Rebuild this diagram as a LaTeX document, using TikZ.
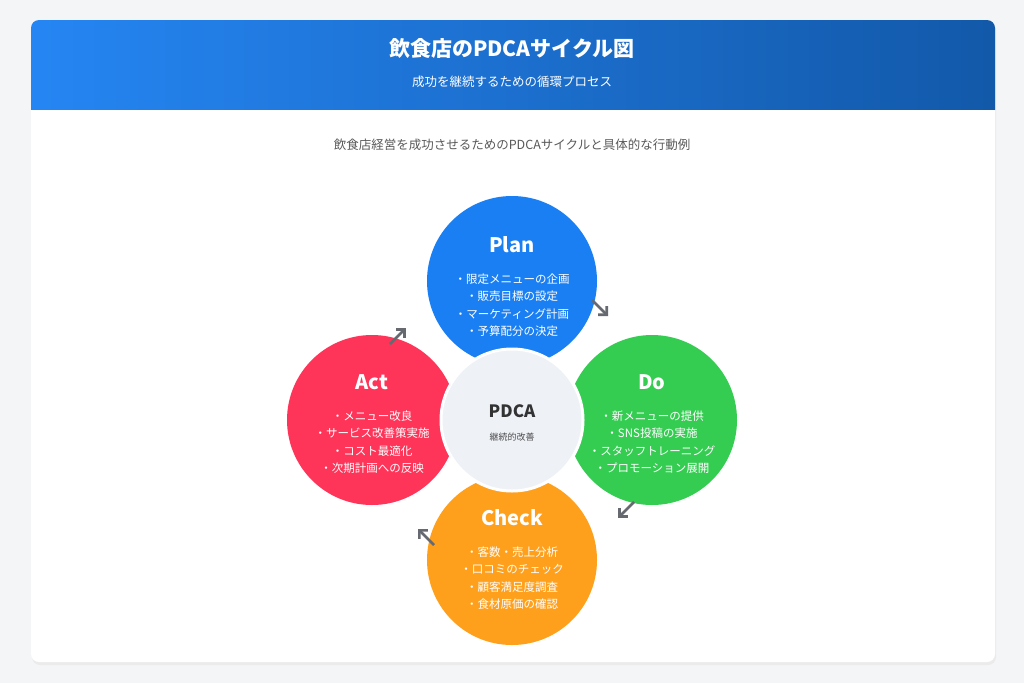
\documentclass[tikz,border=0pt]{standalone}
\usepackage{fontspec}
\setmainfont{Noto Sans CJK JP}
\usetikzlibrary{positioning,calc,arrows.meta}
\definecolor{pagebg}{HTML}{F4F5F7}
\definecolor{planblue}{HTML}{1A7FF2}
\definecolor{dogreen}{HTML}{35CC52}
\definecolor{checkorange}{HTML}{FFA01C}
\definecolor{actred}{HTML}{FF3459}
\definecolor{hubgray}{HTML}{EEF1F6}
\definecolor{arrowgray}{HTML}{666A70}
\tikzset{
  phase/.style={circle,minimum size=170pt,inner sep=0pt,fill=#1},
  phasetitle/.style={font=\bfseries\fontsize{20}{24}\selectfont,text=white},
  phaselist/.style={font=\fontsize{11.5}{17.5}\selectfont,text=white,align=center},
  cyclearrow/.style={arrowgray,line width=2.6pt,-{Straight Barb[length=6pt,width=12pt]}}
}
\begin{document}
\begin{tikzpicture}[x=1pt,y=-1pt]
            \fill[pagebg] (0,0) rectangle (1024,683);
            \useasboundingbox (0,0) rectangle (1024,683);
            \fill[black!8,rounded corners=8pt] (32,22) rectangle (996,665);
            \fill[white,rounded corners=8pt] (31,20) rectangle (995,662);
            \begin{scope}
                \clip[rounded corners=8pt] (31,20) rectangle (995,662);
                \shade[left color=planblue!95!white,right color=planblue!70!black] (31,20) rectangle (995,109);
            \end{scope}
            \node[font=\bfseries\fontsize{21}{24}\selectfont,text=white] (title) at (512,48) {飲食店のPDCAサイクル図};
            \node[font=\fontsize{12.5}{15}\selectfont,text=white] (subtitle) at (512,82) {成功を継続するための循環プロセス};
            \node[font=\fontsize{12.5}{15}\selectfont,text=black!65] (desc) at (512,145) {飲食店経営を成功させるためのPDCAサイクルと具体的な行動例};
            % four phases
            \node[phase=planblue] (plan) at (512,281) {};
            \node[phase=dogreen] (do) at (652,420) {};
            \node[phase=checkorange] (check) at (512,560) {};
            \node[phase=actred] (act) at (372,420) {};
            \node[phasetitle] at ($(plan)+(0,-36)$) {Plan};
            \node[phaselist] at ($(plan)+(0,24)$) {・限定メニューの企画\\・販売目標の設定\\・マーケティング計画\\・予算配分の決定};
            \node[phasetitle] at ($(do)+(0,-38)$) {Do};
            \node[phaselist] at ($(do)+(0,22)$) {・新メニューの提供\\・SNS投稿の実施\\・スタッフトレーニング\\・プロモーション展開};
            \node[phasetitle] at ($(check)+(0,-42)$) {Check};
            \node[phaselist] at ($(check)+(0,18)$) {・客数・売上分析\\・口コミのチェック\\・顧客満足度調査\\・食材原価の確認};
            \node[phasetitle] at ($(act)+(0,-38)$) {Act};
            \node[phaselist] at ($(act)+(0,22)$) {・メニュー改良\\・サービス改善策実施\\・コスト最適化\\・次期計画への反映};
            % hub
            \node[circle,minimum size=142pt,fill=hubgray,draw=white,line width=3pt] (hub) at (512,420) {};
            \node[font=\bfseries\fontsize{17}{20}\selectfont,text=black!80] (hubtitle) at ($(hub)+(0,-9)$) {PDCA};
            \node[font=\fontsize{9}{11}\selectfont,text=black!70] (hubsub) at ($(hub)+(0,17)$) {継続的改善};
            % arrows
            \coordinate (a1) at (390,344); \coordinate (b1) at (406,328);
            \coordinate (a2) at (592,300); \coordinate (b2) at (608,316);
            \coordinate (a3) at (634,502); \coordinate (b3) at (618,518);
            \coordinate (a4) at (434,545); \coordinate (b4) at (418,529);
            \foreach \i in {1,2,3,4} {
                \draw[cyclearrow] (a\i) -- (b\i);
            }
\end{tikzpicture}
\end{document}
